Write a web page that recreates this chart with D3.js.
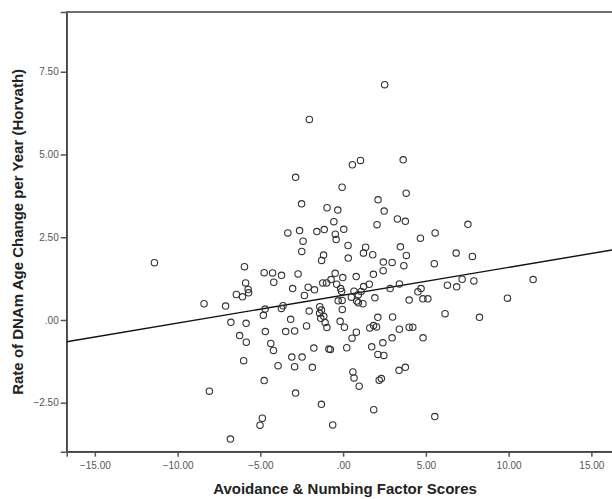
<!DOCTYPE html>
<html>
<head>
<meta charset="utf-8">
<script src="https://cdn.jsdelivr.net/npm/d3@7"></script>
<style>
  html, body { margin: 0; padding: 0; background: #fff; }
  svg { display: block; }
</style>
</head>
<body>
<svg id="chart" width="612" height="499"></svg>
<script>
// ---- data ----
const xValues = [
  -11.40,-8.40,-7.10,-8.08,-6.81,-6.78,-6.45,-6.08,-5.96,-5.89,-5.74,-5.71,-6.25,-5.85,-5.86,-6.01,
  -4.77,-4.26,-3.72,-4.19,-4.71,-4.82,-3.63,-3.73,-4.70,-3.47,-4.37,-4.21,-3.93,-4.77,-4.88,-5.02,
  -3.34,-3.05,-2.72,-3.17,-3.10,-2.93,-2.87,-2.93,-2.87,-2.51,-2.63,-2.42,-2.50,-2.04,-1.59,-1.14,
  -0.97,-2.11,-1.73,-2.34,-2.05,-2.21,-2.48,-1.77,-1.86,-1.31,-1.18,-1.30,-1.23,-1.00,-1.41,-1.31,
  -1.42,-1.17,-1.35,-1.09,-0.98,-0.86,-0.73,-0.56,-0.32,-0.06,0.56,1.05,-0.47,-0.42,0.04,0.30,
  0.31,1.36,1.23,1.79,-0.48,-0.02,0.79,1.83,2.42,2.43,2.96,3.67,3.82,3.46,4.67,5.56,
  2.05,3.28,3.76,2.48,2.11,3.81,3.63,2.51,-0.39,-0.15,-0.09,0.66,1.09,0.92,0.50,1.24,
  1.58,2.84,3.40,1.92,-0.30,-0.06,0.82,0.92,1.20,3.99,4.52,4.71,4.82,5.12,-0.05,-0.18,
  0.08,0.80,0.54,2.10,2.99,1.61,1.84,2.02,3.40,3.99,4.21,2.96,2.40,1.73,2.10,2.46,
  0.22,-0.77,4.83,0.59,0.66,0.97,3.38,3.76,2.18,2.31,1.85,-0.63,5.54,7.54,6.83,7.81,
  5.51,7.19,7.90,6.30,6.86,11.48,9.93,6.16,8.24
];
const yValues = [
  1.73,0.49,0.42,-2.15,-3.60,-0.07,0.77,0.70,1.61,1.12,0.92,0.82,-0.47,-0.67,-0.10,-1.23,
  1.43,1.42,1.35,1.14,0.33,0.14,0.43,0.35,-0.35,-0.35,-0.71,-0.92,-1.38,-1.83,-2.97,-3.18,
  2.63,0.95,1.39,0.02,-1.12,-1.41,-2.21,-0.33,4.31,3.51,2.70,2.38,2.07,6.06,2.67,2.73,
  3.39,0.99,0.91,0.74,0.27,-0.18,-1.12,-0.85,-1.43,-2.55,1.96,1.80,1.12,1.12,0.40,0.30,
  0.20,0.11,0.05,-0.08,-0.23,-0.88,1.22,2.97,3.32,4.01,4.69,4.82,2.59,2.43,2.74,2.25,
  1.87,2.20,2.02,1.97,1.41,1.28,1.31,1.38,1.49,1.75,1.74,1.64,1.95,2.21,2.47,2.63,
  2.88,3.05,2.98,3.29,3.63,3.83,4.84,7.11,1.08,0.95,0.86,0.87,0.86,0.76,0.69,1.01,
  1.08,0.95,1.09,0.67,0.58,0.59,0.57,0.52,0.49,0.60,0.85,0.95,0.64,0.64,0.32,-0.04,
  -0.22,-0.37,-0.55,0.08,0.09,-0.24,-0.17,-0.21,-0.28,-0.22,-0.22,-0.54,-0.69,-0.81,-1.04,-1.07,
  -0.84,-0.89,-0.54,-1.57,-1.75,-2.00,-1.52,-1.43,-1.82,-1.77,-2.71,-3.17,-2.92,2.89,2.02,1.92,
  1.70,1.23,1.18,1.05,1.00,1.22,0.66,0.19,0.08
];
const xTicks = [-15, -10, -5, 0, 5, 10, 15];
const yTicks = [-2.5, 0, 2.5, 5, 7.5];
const xDomain = [-16.7, 16.3];
const yDomain = [-3.98, 9.305];
const fitIntercept = 0.748;
const fitSlope = 0.0841;
const xTitle = "Avoidance & Numbing Factor Scores";
const yTitle = "Rate of DNAm Age Change per Year (Horvath)";

// ---- layout ----
const svg = d3.select("#chart");
const pLeft = 66.7, pRight = 612.9, pTop = 12, pBottom = 451.7;
const x = d3.scaleLinear().domain(xDomain).range([pLeft, pRight]);
const y = d3.scaleLinear().domain(yDomain).range([pBottom, pTop]);
const fmt = v => { const s = d3.format(".2f")(v); return s.replace(/^0\./, ".").replace(/^-0\./, "-."); };
const font = "'Liberation Sans', Arial, sans-serif";

// frame
svg.append("rect").attr("x", pLeft).attr("y", pTop)
  .attr("width", pRight - pLeft + 4).attr("height", pBottom - pTop)
  .attr("fill", "#fff").attr("stroke", "#333").attr("stroke-width", 1.4);

// axes
const xAxis = d3.axisBottom(x).tickValues(xTicks).tickFormat(fmt).tickSizeOuter(0).tickSize(5).tickPadding(5);
const gx = svg.append("g").attr("transform", `translate(0,${pBottom})`).call(xAxis);
const yAxis = d3.axisLeft(y).tickValues(yTicks).tickFormat(fmt).tickSizeOuter(0).tickSize(6).tickPadding(2);
const gy = svg.append("g").attr("transform", `translate(${pLeft},0)`).call(yAxis);
[gx, gy].forEach(g => {
  g.select(".domain").attr("stroke", "#555").attr("stroke-width", 1.5);
  g.selectAll(".tick line").attr("stroke", "#555").attr("stroke-width", 1.5);
  g.selectAll(".tick text").attr("fill", "#555").style("font-family", font).style("font-size", "10px");
});

// regression line
svg.append("line")
  .attr("x1", x(xDomain[0])).attr("y1", y(fitIntercept + fitSlope * xDomain[0]))
  .attr("x2", x(xDomain[1])).attr("y2", y(fitIntercept + fitSlope * xDomain[1]))
  .attr("stroke", "#111").attr("stroke-width", 1.4);

// points
const pts = xValues.map((v, i) => ({x: v, y: yValues[i]}));
svg.append("g").selectAll("circle").data(pts).join("circle")
  .attr("cx", d => x(d.x)).attr("cy", d => y(d.y)).attr("r", 3.2)
  .attr("fill", "none").attr("stroke", "#333").attr("stroke-width", 1.1);

// titles
svg.append("text").attr("x", 345).attr("y", 494)
  .attr("text-anchor", "middle").style("font-family", font).style("font-size", "15px")
  .style("font-weight", "bold").attr("fill", "#222").text(xTitle);
svg.append("text").attr("transform", `translate(23,${(pTop + pBottom) / 2}) rotate(-90)`)
  .attr("text-anchor", "middle").style("font-family", font).style("font-size", "15px")
  .style("font-weight", "bold").attr("fill", "#222").text(yTitle);
</script>
</body>
</html>
